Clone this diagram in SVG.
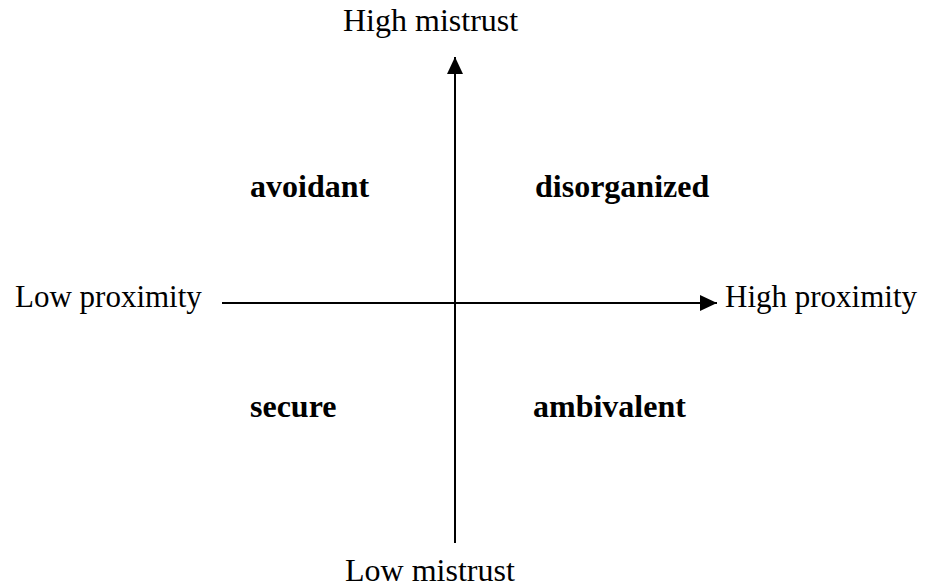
<svg xmlns="http://www.w3.org/2000/svg" width="925" height="587" viewBox="0 0 925 587">
<defs>
<style>
text{font-family:"Liberation Serif","Times New Roman",serif;font-size:32px;fill:#000}
.p{font-size:31px}
.b{font-weight:bold}
.ax{stroke:#000;stroke-width:2;fill:none}
</style>
<marker id="ah" markerUnits="userSpaceOnUse" markerWidth="18" markerHeight="16" refX="17" refY="8" orient="auto">
<path d="M0,0 L17,8 L0,16 Z" fill="#000"/>
</marker>
</defs>
<rect width="925" height="587" fill="#fff"/>
<g id="connectors">
<line class="ax" x1="455" y1="543" x2="455" y2="57" marker-end="url(#ah)"/>
<line class="ax" x1="222" y1="303" x2="717" y2="303" marker-end="url(#ah)"/>
</g>
<g id="high-mistrust"><text x="343" y="31">High mistrust</text></g>
<g id="low-mistrust"><text x="345" y="581">Low mistrust</text></g>
<g id="low-proximity"><text class="p" x="15" y="307">Low proximity</text></g>
<g id="high-proximity"><text class="p" x="725" y="307">High proximity</text></g>
<g id="avoidant"><text class="b" x="250" y="197">avoidant</text></g>
<g id="disorganized"><text class="b" x="535" y="197">disorganized</text></g>
<g id="secure"><text class="b" x="250" y="417">secure</text></g>
<g id="ambivalent"><text class="b" x="533" y="417">ambivalent</text></g>
</svg>
